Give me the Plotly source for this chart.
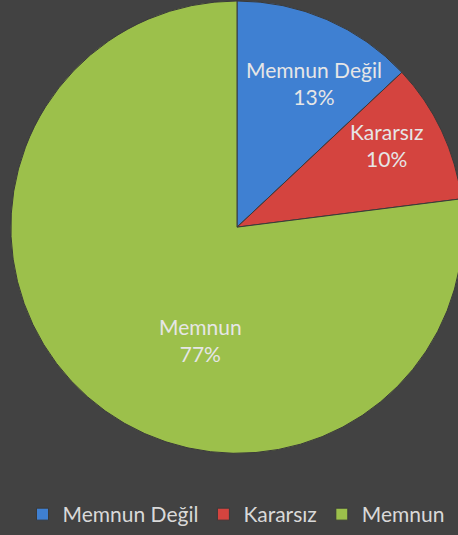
import plotly.graph_objects as go

labels = ["Memnun Değil", "Kararsız", "Memnun"]
values = [13, 10, 77]
colors = ["#3f80d2", "#d4443f", "#9cc04b"]
# label anchor points (pixels from top-left)
label_px = [(314, 83), (386, 146), (200, 341)]

W, H = 464, 535
cx, cy, r = 237, 228, 227

fig = go.Figure(go.Pie(
    labels=labels,
    values=values,
    sort=False,
    direction="clockwise",
    rotation=0,
    marker=dict(colors=colors, line=dict(color="#3a3a3a", width=1)),
    textposition="none",
    hoverinfo="label+percent",
    domain=dict(x=[(cx - r) / W, (cx + r) / W],
                y=[(H - cy - r) / H, (H - cy + r) / H]),
))

total = sum(values)
for lab, val, (px, py) in zip(labels, values, label_px):
    fig.add_annotation(
        x=px / W, y=1 - py / H, xref="paper", yref="paper",
        text=f"{lab}<br>{round(100 * val / total)}%",
        showarrow=False, xanchor="center", yanchor="middle",
        font=dict(family="Lato", size=21, color="#e6e6e6"),
    )

fig.update_layout(
    width=W, height=H,
    margin=dict(l=0, r=0, t=0, b=0),
    paper_bgcolor="#424242",
    plot_bgcolor="#424242",
    showlegend=True,
    legend=dict(orientation="h", x=236 / W, xanchor="center", y=-0.004, yanchor="bottom",
                font=dict(family="Lato", size=21, color="#d9d9d9"),
                itemwidth=30, traceorder="normal"),
)

fig.write_html("out.html", config={"displayModeBar": False},
               post_script="document.body.style.margin='0';document.body.style.overflow='hidden';")
